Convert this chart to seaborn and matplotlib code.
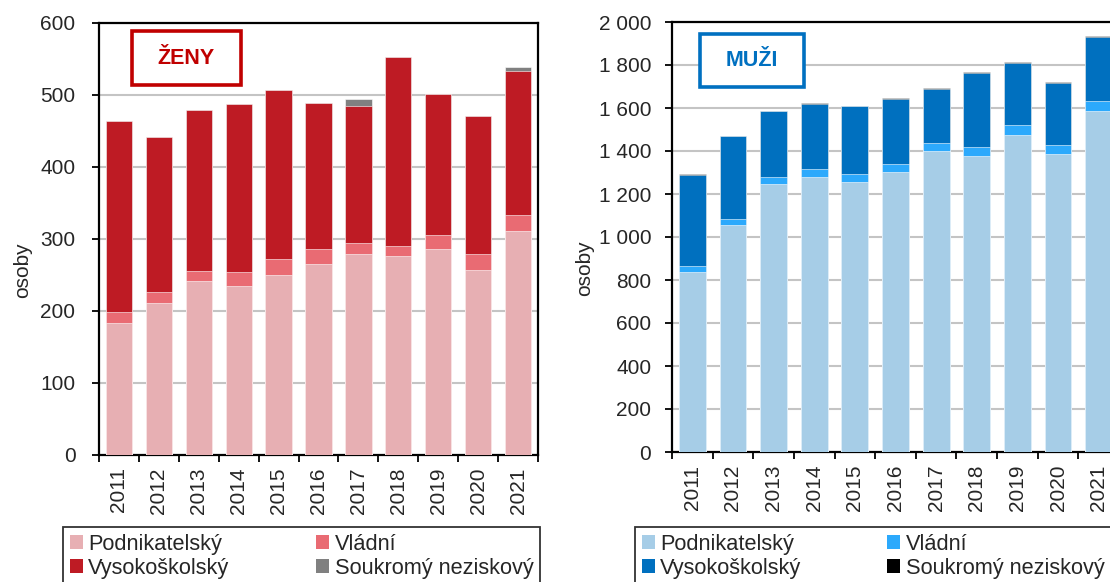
import numpy as np
import pandas as pd
import matplotlib
matplotlib.use("Agg")
import matplotlib.pyplot as plt
import seaborn as sns
from matplotlib.patches import Patch
from matplotlib.ticker import FuncFormatter, MultipleLocator, FixedLocator

# ---------------- data ----------------
years = ["2011", "2012", "2013", "2014", "2015", "2016", "2017", "2018", "2019", "2020", "2021"]
sectors = ["Podnikatelský", "Vládní", "Vysokoškolský", "Soukromý neziskový"]

zeny_podnik = [184, 211, 241, 235, 250, 265, 279, 276, 286, 257, 311]
zeny_vladni = [15, 16, 15, 19, 22, 21, 16, 14, 20, 22, 22]
zeny_vysoko = [265, 214, 223, 234, 235, 203, 190, 263, 196, 192, 201]
zeny_soukr = [0, 0, 0, 0, 0, 0, 9, 0, 0, 0, 5]

muzi_podnik = [838, 1055, 1248, 1280, 1255, 1303, 1398, 1378, 1476, 1384, 1587]
muzi_vladni = [25, 30, 31, 36, 37, 37, 40, 42, 47, 45, 47]
muzi_vysoko = [426, 383, 306, 303, 315, 304, 250, 345, 288, 288, 295]
muzi_soukr = [2, 2, 2, 2, 2, 2, 6, 2, 2, 2, 6]

zeny_colors = ["#e7afb3", "#e96b73", "#be1b24", "#808080"]
muzi_colors = ["#a6cde7", "#2ca9fc", "#0070bf", "#000000"]

sns.set_style("white")
plt.rcParams["font.family"] = ["Liberation Sans", "DejaVu Sans"]
FS = 15

fig = plt.figure(figsize=(11.1, 5.82), dpi=100)
W, H = 1110, 582


def px_axes(x0, y0, x1, y1):
    return fig.add_axes([x0 / W, 1 - y1 / H, (x1 - x0) / W, (y1 - y0) / H])


def stacked(ax, layers, colors, ymax, step, title, tcolor, box, label_pad):
    df = pd.DataFrame({"rok": years})
    cum = np.zeros(len(years))
    cums = []
    for vals in layers:
        cum = cum + np.array(vals)
        cums.append(cum.copy())
    # draw from the top layer down so each lower cumulative total covers the one above
    for i in range(len(layers) - 1, -1, -1):
        df["v"] = cums[i]
        sns.barplot(data=df, x="rok", y="v", color=colors[i], width=0.66,
                    saturation=1, edgecolor="white", linewidth=0.4, ax=ax, zorder=3)
    ax.set_ylim(0, ymax)
    ax.set_xlim(-0.5, len(years) - 0.5)
    ax.yaxis.set_major_locator(MultipleLocator(step))
    ax.yaxis.set_major_formatter(FuncFormatter(lambda v, p: f"{v:,.0f}".replace(",", " ")))
    ax.grid(axis="y", color="#c4c4c4", linewidth=1.5, zorder=0)
    ax.set_axisbelow(True)
    for s in ax.spines.values():
        s.set_color("black")
        s.set_linewidth(1.6)
    ax.tick_params(axis="y", direction="out", length=5, width=1.3, color="black",
                   labelsize=FS, pad=label_pad, left=True)
    ax.set_xticks(range(len(years)))
    ax.set_xticklabels(years, rotation=90, fontsize=FS)
    ax.tick_params(axis="x", which="major", length=0, pad=9)
    ax.xaxis.set_minor_locator(FixedLocator(np.arange(-0.5, len(years), 1.0)))
    ax.tick_params(axis="x", which="minor", direction="out", length=5, width=1.3,
                   color="black", bottom=True)
    ax.set_xlabel("")
    ax.set_ylabel("")
    bx0, by0, bx1, by1 = box
    ax.add_patch(plt.Rectangle((bx0 / W, 1 - by1 / H), (bx1 - bx0) / W, (by1 - by0) / H,
                               transform=fig.transFigure, fill=True, facecolor="white",
                               edgecolor=tcolor, linewidth=2.6, zorder=5, clip_on=False))
    fig.text((bx0 + bx1) / 2 / W, 1 - (by0 + by1) / 2 / H, title, color=tcolor,
             fontsize=15.5, fontweight="bold", ha="center", va="center", zorder=6)


ax1 = px_axes(99, 23, 538, 455)
stacked(ax1, [zeny_podnik, zeny_vladni, zeny_vysoko, zeny_soukr], zeny_colors,
        600, 100, "ŽENY", "#c00000", (132, 31, 241, 85), 12)

ax2 = px_axes(672, 22, 1119, 452)
stacked(ax2, [muzi_podnik, muzi_vladni, muzi_vysoko, muzi_soukr], muzi_colors,
        2000, 200, "MUŽI", "#0070c0", (700, 34, 804, 87), 10)

fig.text(23 / W, 1 - 270 / H, "osoby", rotation=90, fontsize=FS, ha="center", va="center")
fig.text(585 / W, 1 - 268 / H, "osoby", rotation=90, fontsize=FS, ha="center", va="center")

# legends: column-wise order gives Podnikatelský/Vysokoškolský left, Vládní/Soukromý right
order = [0, 2, 1, 3]
for colors, x0, x1 in [(zeny_colors, 63, 540), (muzi_colors, 635, 1111)]:
    handles = [Patch(facecolor=colors[i], edgecolor="none") for i in order]
    labels = [sectors[i] for i in order]
    leg = fig.legend(handles, labels, ncol=2, mode="expand",
                     bbox_to_anchor=(x0 / W, 1 - 598 / H, (x1 - x0) / W, 71 / H),
                     loc="upper left", bbox_transform=fig.transFigure,
                     fontsize=15.7, frameon=True, fancybox=False, borderaxespad=0,
                     handlelength=0.6, handleheight=0.6, handletextpad=0.25,
                     labelspacing=0.15, borderpad=0.3)
    fr = leg.get_frame()
    fr.set_edgecolor("black")
    fr.set_linewidth(1.3)

fig.savefig("out.png", dpi=100)
